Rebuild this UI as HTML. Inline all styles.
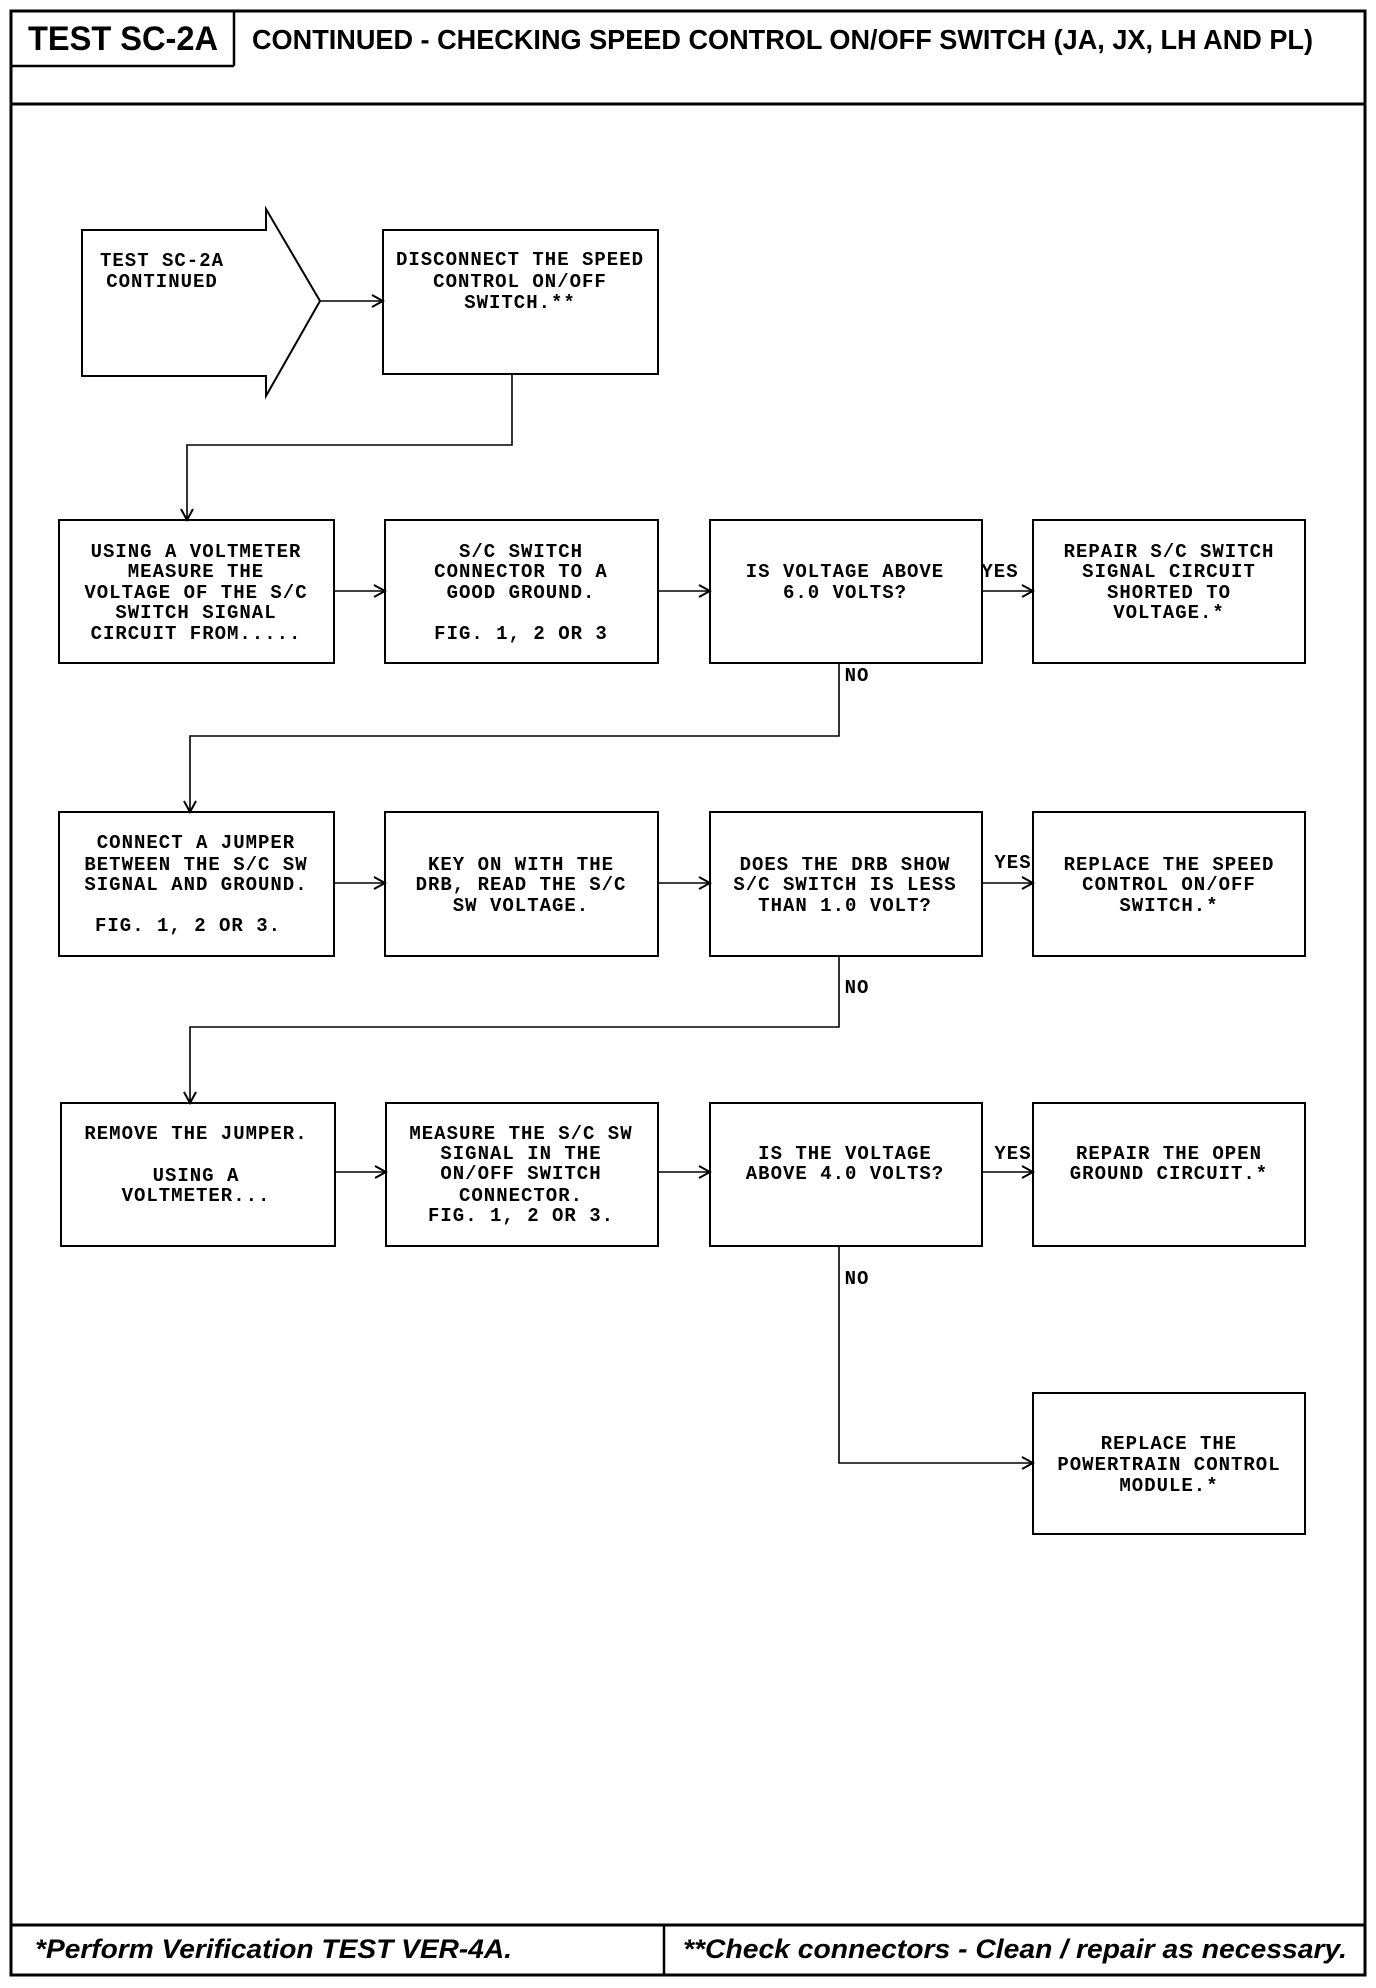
<!DOCTYPE html>
<html><head><meta charset="utf-8"><style>html,body{margin:0;padding:0;background:#fff}svg{display:block}</style></head>
<body>
<svg width="1376" height="1988" viewBox="0 0 1376 1988" xmlns="http://www.w3.org/2000/svg">
<defs><marker id="a" markerWidth="14" markerHeight="14" refX="12" refY="7" orient="auto" markerUnits="userSpaceOnUse"><path d="M1,1 L12,7 L1,13" fill="none" stroke="#000" stroke-width="2"/></marker></defs>
<g fill="none" stroke="#000">
<rect x="11" y="11" width="1354" height="1964" stroke-width="3"/>
<line x1="11" y1="104" x2="1365" y2="104" stroke-width="3"/>
<line x1="234" y1="11" x2="234" y2="66" stroke-width="2.5"/>
<line x1="11" y1="66" x2="234" y2="66" stroke-width="2.5"/>
<line x1="11" y1="1925" x2="1365" y2="1925" stroke-width="3"/>
<line x1="664" y1="1925" x2="664" y2="1975" stroke-width="2.5"/>
<g stroke-width="2">
<path d="M82,230 L266,230 L266,209 L320,301 L266,396 L266,376 L82,376 Z"/>
<rect x="383" y="230" width="275" height="144"/>
<rect x="59" y="520" width="275" height="143"/><rect x="385" y="520" width="273" height="143"/><rect x="710" y="520" width="272" height="143"/><rect x="1033" y="520" width="272" height="143"/>
<rect x="59" y="812" width="275" height="144"/><rect x="385" y="812" width="273" height="144"/><rect x="710" y="812" width="272" height="144"/><rect x="1033" y="812" width="272" height="144"/>
<rect x="61" y="1103" width="274" height="143"/><rect x="386" y="1103" width="272" height="143"/><rect x="710" y="1103" width="272" height="143"/><rect x="1033" y="1103" width="272" height="143"/>
<rect x="1033" y="1393" width="272" height="141"/>
</g>
<g stroke-width="1.6">
<line x1="320" y1="301" x2="383" y2="301" marker-end="url(#a)"/>
<polyline points="512,374 512,445 187,445 187,520" marker-end="url(#a)"/>
<line x1="334" y1="591" x2="385" y2="591" marker-end="url(#a)"/>
<line x1="658" y1="591" x2="710" y2="591" marker-end="url(#a)"/>
<line x1="982" y1="591" x2="1033" y2="591" marker-end="url(#a)"/>
<polyline points="839,663 839,736 190,736 190,812" marker-end="url(#a)"/>
<line x1="334" y1="883" x2="385" y2="883" marker-end="url(#a)"/>
<line x1="658" y1="883" x2="710" y2="883" marker-end="url(#a)"/>
<line x1="982" y1="883" x2="1033" y2="883" marker-end="url(#a)"/>
<polyline points="839,956 839,1027 190,1027 190,1103" marker-end="url(#a)"/>
<line x1="335" y1="1172" x2="386" y2="1172" marker-end="url(#a)"/>
<line x1="658" y1="1172" x2="710" y2="1172" marker-end="url(#a)"/>
<line x1="982" y1="1172" x2="1033" y2="1172" marker-end="url(#a)"/>
<polyline points="839,1246 839,1463 1033,1463" marker-end="url(#a)"/>
</g>
</g>
<g font-family="Liberation Sans, Arial, sans-serif" font-weight="bold" fill="#000">
<text x="28" y="50" font-size="34" textLength="190" lengthAdjust="spacingAndGlyphs">TEST SC-2A</text>
<text x="252" y="49" font-size="28" textLength="1061" lengthAdjust="spacingAndGlyphs">CONTINUED - CHECKING SPEED CONTROL ON/OFF SWITCH (JA, JX, LH AND PL)</text>
<text x="35" y="1958" font-size="27" font-style="italic" textLength="477" lengthAdjust="spacingAndGlyphs">*Perform Verification TEST VER-4A.</text>
<text x="683" y="1958" font-size="27" font-style="italic" textLength="664" lengthAdjust="spacingAndGlyphs">**Check connectors - Clean / repair as necessary.</text>
</g>
<g font-family="Liberation Mono, DejaVu Sans Mono, monospace" font-size="19" font-weight="bold" fill="#000" text-anchor="middle" letter-spacing="1">
<text x="162" y="266">TEST SC-2A</text><text x="162" y="287">CONTINUED</text>
<text x="520" y="265">DISCONNECT THE SPEED</text><text x="520" y="287">CONTROL ON/OFF</text><text x="520" y="308">SWITCH.**</text>
<text x="196" y="557">USING A VOLTMETER</text><text x="196" y="577">MEASURE THE</text><text x="196" y="598">VOLTAGE OF THE S/C</text><text x="196" y="618">SWITCH SIGNAL</text><text x="196" y="639">CIRCUIT FROM.....</text>
<text x="521" y="557">S/C SWITCH</text><text x="521" y="577">CONNECTOR TO A</text><text x="521" y="598">GOOD GROUND.</text><text x="521" y="639">FIG. 1, 2 OR 3</text>
<text x="845" y="577">IS VOLTAGE ABOVE</text><text x="845" y="598">6.0 VOLTS?</text>
<text x="1169" y="557">REPAIR S/C SWITCH</text><text x="1169" y="577">SIGNAL CIRCUIT</text><text x="1169" y="598">SHORTED TO</text><text x="1169" y="618">VOLTAGE.*</text>
<text x="1000" y="577">YES</text><text x="857" y="681">NO</text>
<text x="196" y="848">CONNECT A JUMPER</text><text x="196" y="870">BETWEEN THE S/C SW</text><text x="196" y="890">SIGNAL AND GROUND.</text><text x="188" y="931">FIG. 1, 2 OR 3.</text>
<text x="521" y="870">KEY ON WITH THE</text><text x="521" y="890">DRB, READ THE S/C</text><text x="521" y="911">SW VOLTAGE.</text>
<text x="845" y="870">DOES THE DRB SHOW</text><text x="845" y="890">S/C SWITCH IS LESS</text><text x="845" y="911">THAN 1.0 VOLT?</text>
<text x="1169" y="870">REPLACE THE SPEED</text><text x="1169" y="890">CONTROL ON/OFF</text><text x="1169" y="911">SWITCH.*</text>
<text x="1013" y="868">YES</text><text x="857" y="993">NO</text>
<text x="196" y="1139">REMOVE THE JUMPER.</text><text x="196" y="1181">USING A</text><text x="196" y="1201">VOLTMETER...</text>
<text x="521" y="1139">MEASURE THE S/C SW</text><text x="521" y="1159">SIGNAL IN THE</text><text x="521" y="1179">ON/OFF SWITCH</text><text x="521" y="1201">CONNECTOR.</text><text x="521" y="1221">FIG. 1, 2 OR 3.</text>
<text x="845" y="1159">IS THE VOLTAGE</text><text x="845" y="1179">ABOVE 4.0 VOLTS?</text>
<text x="1169" y="1159">REPAIR THE OPEN</text><text x="1169" y="1179">GROUND CIRCUIT.*</text>
<text x="1013" y="1159">YES</text><text x="857" y="1284">NO</text>
<text x="1169" y="1449">REPLACE THE</text><text x="1169" y="1470">POWERTRAIN CONTROL</text><text x="1169" y="1491">MODULE.*</text>
</g>
</svg>
</body></html>
